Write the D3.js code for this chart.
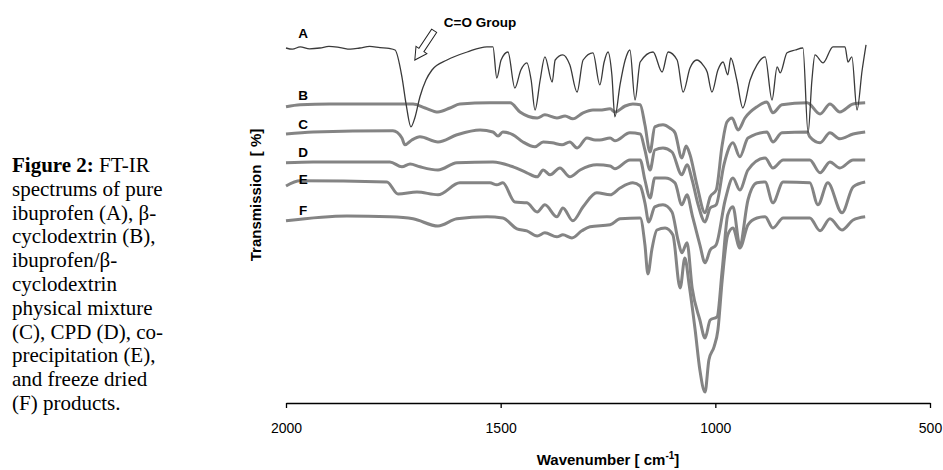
<!DOCTYPE html>
<html>
<head>
<meta charset="utf-8">
<script src="https://cdn.jsdelivr.net/npm/d3@7"></script>
<style>
  body { margin: 0; background: #fff; }
  svg { display: block; }
</style>
</head>
<body>
<svg id="chart" width="943" height="470"></svg>
<script>
// Spectra as [wavenumber cm-1, transmission %] pairs.
const spectrumA = [
  [2000, 90.5], [1985, 90.2], [1967, 90.8], [1945, 90.3], [1921, 90.5], [1900, 90.9],
  [1874, 90.6], [1850, 90.2], [1828, 90.5], [1805, 90.9], [1781, 90.6], [1760, 90.4],
  [1746, 90], [1730, 83.3], [1720, 76.3], [1709, 70.8], [1700, 73], [1688, 78.3],
  [1674, 82.5], [1660, 85], [1625, 87.5], [1578, 89.5], [1532, 90.8], [1518, 90.8],
  [1509, 83], [1499, 87.5], [1483, 89.5], [1467, 80.5], [1453, 85], [1439, 86.8],
  [1429, 82.5], [1420, 75], [1408, 82.5], [1397, 88.3], [1380, 82], [1373, 87.5],
  [1355, 88.8], [1339, 86.3], [1322, 79.5], [1308, 87.5], [1285, 89.3], [1269, 81.3],
  [1259, 87], [1250, 89.5], [1241, 83.8], [1234, 73.3], [1222, 81.3], [1210, 87.5],
  [1199, 90], [1187, 77.5], [1175, 87], [1145, 89.5], [1124, 84.5], [1110, 89.5],
  [1089, 87.5], [1075, 79.5], [1059, 85.5], [1043, 87.5], [1029, 86.3], [1019, 84.5],
  [1008, 79.5], [994, 85], [982, 87], [971, 83.8], [964, 88], [950, 82.5],
  [936, 75.5], [919, 82.5], [903, 86.3], [884, 88.3], [868, 77.5], [856, 85.8],
  [849, 84.3], [833, 89.3], [814, 90], [796, 90.5], [784, 69.3], [775, 82.5],
  [768, 88.8], [749, 86.8], [726, 90.8], [698, 90.8], [691, 87], [682, 88.3],
  [670, 75], [658, 85], [649, 91.3]
];
const spectrumB = [
  [2000, 75.8], [1967, 76.3], [1898, 76.5], [1804, 76.5], [1704, 76.5], [1676, 75.5],
  [1646, 74.5], [1618, 75.5], [1595, 76.5], [1525, 76.8], [1478, 76.8], [1455, 74.5],
  [1415, 73], [1397, 73.8], [1369, 73], [1350, 73.5], [1332, 72.8], [1308, 74.3],
  [1285, 75], [1269, 75], [1245, 75.3], [1234, 74.5], [1210, 76], [1192, 76.5],
  [1175, 76.3], [1164, 71.3], [1152, 64.5], [1141, 70.8], [1122, 71.3], [1106, 70.5],
  [1094, 69.3], [1078, 63], [1068, 66], [1059, 63.8], [1043, 56.3], [1024, 49.3],
  [1012, 53.3], [998, 55], [984, 66.3], [973, 72], [961, 73], [947, 70],
  [931, 73], [903, 75.8], [880, 77], [866, 74.3], [845, 76.3], [786, 76.8],
  [756, 74], [733, 76.5], [710, 74.5], [679, 76.5], [651, 76.8]
];
const spectrumC = [
  [2000, 69], [1937, 69.5], [1751, 69.8], [1730, 68], [1723, 66.3], [1707, 67.5],
  [1688, 68.3], [1646, 67], [1602, 68.8], [1548, 70], [1518, 69.5], [1506, 68.5],
  [1495, 69.5], [1471, 68.8], [1448, 67], [1420, 65.8], [1401, 67], [1380, 66.8],
  [1357, 66.3], [1339, 67], [1322, 65.5], [1299, 68], [1280, 67.5], [1269, 67.5],
  [1245, 68], [1234, 67.3], [1199, 69.3], [1175, 69], [1164, 65], [1152, 60],
  [1141, 65], [1122, 65.5], [1101, 64.5], [1078, 58.8], [1066, 61.3], [1054, 57.5],
  [1040, 51.3], [1024, 47], [1012, 50.5], [998, 51.3], [980, 61.3], [959, 66.8],
  [943, 63.3], [924, 68], [880, 69.5], [866, 67], [845, 69.3], [786, 69.5],
  [780, 68.3], [756, 66.8], [733, 69.3], [710, 67.8], [679, 69], [651, 69.5]
];
const spectrumD = [
  [2000, 61.8], [1937, 62], [1758, 62], [1730, 60.8], [1711, 61.5], [1688, 60.8],
  [1646, 60], [1602, 61.8], [1518, 62], [1471, 60.8], [1439, 59.3], [1415, 58.3],
  [1401, 60], [1385, 58.8], [1362, 60.5], [1339, 58.3], [1315, 60], [1276, 61.3],
  [1245, 61], [1234, 60.3], [1199, 62.5], [1175, 62.5], [1164, 57.5], [1152, 53],
  [1141, 58], [1117, 58], [1094, 56.8], [1078, 51.3], [1066, 53.8], [1054, 48.8],
  [1036, 41.3], [1024, 36.8], [1012, 40], [998, 41.3], [977, 52.5], [959, 58],
  [943, 55], [924, 60], [884, 63], [866, 60.5], [842, 62.5], [780, 62.5],
  [756, 59.3], [733, 62], [710, 60.5], [679, 62.5], [651, 62.5]
];
const spectrumE = [
  [2000, 56], [1967, 57.3], [1765, 57], [1739, 54], [1695, 54.5], [1646, 53.8],
  [1595, 56.8], [1525, 56.8], [1509, 56.3], [1495, 56.8], [1467, 52], [1439, 51.8],
  [1415, 49.5], [1397, 51.3], [1369, 48.3], [1355, 50.5], [1332, 47.3], [1308, 50.8],
  [1276, 54.3], [1245, 53.8], [1222, 55.5], [1192, 56.8], [1175, 56], [1164, 51.8],
  [1155, 47], [1141, 50.8], [1122, 51.3], [1101, 49.5], [1087, 42.5], [1078, 39.3],
  [1066, 41.8], [1054, 30.5], [1036, 22.5], [1024, 18], [1012, 22.5], [996, 23.3],
  [984, 35], [971, 48.8], [959, 50.8], [943, 41.3], [924, 52.5], [903, 56.8],
  [884, 57], [866, 51.8], [842, 57], [780, 56.8], [761, 51.3], [738, 56.8],
  [705, 49.3], [679, 55.8], [651, 57]
];
const spectrumF = [
  [2000, 47.3], [1858, 48.5], [1758, 48.3], [1704, 47.8], [1646, 46], [1602, 47.8],
  [1532, 48.3], [1495, 48], [1462, 45.3], [1439, 44.8], [1415, 43.5], [1397, 44.3],
  [1369, 43.3], [1355, 43.8], [1334, 43], [1311, 44.8], [1292, 45.8], [1245, 46.3],
  [1222, 47.8], [1175, 48], [1164, 41.3], [1157, 34], [1148, 40], [1136, 45],
  [1117, 45.5], [1099, 43.8], [1082, 30.5], [1071, 38], [1061, 31.3], [1047, 20],
  [1036, 10], [1024, 4.5], [1015, 12.5], [1003, 15.8], [994, 20], [984, 32.5],
  [971, 43.8], [959, 45.5], [943, 40.5], [924, 46.3], [903, 48], [884, 48.3],
  [866, 45.5], [842, 48], [780, 48], [756, 44.8], [733, 47.8], [705, 45],
  [679, 47.5], [651, 48.3]
];

const seriesNames = ['A', 'B', 'C', 'D', 'E', 'F'];
const labelT = [94.3, 78.8, 71.5, 64.5, 57.8, 50];
const xTicks = [2000, 1500, 1000, 500];

const captionLines = [
  ['Figure 2:', ' FT-IR'],
  ['', 'spectrums of pure'],
  ['', 'ibuprofen (A), \u03b2-'],
  ['', 'cyclodextrin (B),'],
  ['', 'ibuprofen/\u03b2-'],
  ['', 'cyclodextrin'],
  ['', 'physical mixture'],
  ['', '(C), CPD (D), co-'],
  ['', 'precipitation (E),'],
  ['', 'and freeze dried'],
  ['', '(F) products.']
];

let svg = d3.select('#chart');

let x = d3.scaleLinear().domain([2000, 500]).range([286, 930]);
let y = d3.scaleLinear().domain([0, 100]).range([410, 10]);
const axisFloor = 1.75;

// caption block on the left
let caption = svg.append('text')
  .attr('font-family', '"Liberation Serif", "Times New Roman", serif')
  .attr('font-size', 21)
  .attr('fill', '#000');
captionLines.forEach(function (ln, i) {
  let t = caption.append('tspan').attr('x', 12).attr('y', 172 + i * 23.8);
  if (ln[0]) t.append('tspan').attr('font-weight', 'bold').text(ln[0]);
  t.append('tspan').text(ln[1]);
});

// the spectra
let spectra = [spectrumA, spectrumB, spectrumC, spectrumD, spectrumE, spectrumF];
let line = d3.line()
  .x(d => x(d[0]))
  .y(d => y(d[1]))
  .curve(d3.curveMonotoneX);

// thick gray lines first, the thin ibuprofen trace on top
svg.append('g').selectAll('path')
  .data(spectra.slice(1))
  .enter()
  .append('path')
  .attr('d', line)
  .attr('fill', 'none')
  .attr('stroke', '#848484')
  .attr('stroke-width', 3)
  .attr('stroke-linejoin', 'round');

svg.append('path')
  .attr('d', line(spectrumA))
  .attr('fill', 'none')
  .attr('stroke', '#3a3a3a')
  .attr('stroke-width', 1.3);

// series letters
svg.append('g').selectAll('text')
  .data(seriesNames)
  .enter()
  .append('text')
  .attr('x', x(1960))
  .attr('y', (d, i) => y(labelT[i]))
  .attr('dy', '0.35em')
  .attr('text-anchor', 'middle')
  .attr('font-family', 'Arial, "Liberation Sans", sans-serif')
  .attr('font-weight', 'bold')
  .attr('font-size', 13.5)
  .text(d => d);

// C=O annotation with hollow arrow
svg.append('text')
  .attr('x', x(1548))
  .attr('y', y(97))
  .attr('dy', '0.35em')
  .attr('text-anchor', 'middle')
  .attr('font-family', 'Arial, "Liberation Sans", sans-serif')
  .attr('font-weight', 'bold')
  .attr('font-size', 13.5)
  .text('C=O Group');

let tail = [x(1655), y(94.8)], tip = [x(1700), y(87.5)];
let len = Math.hypot(tip[0] - tail[0], tip[1] - tail[1]);
let ang = Math.atan2(tip[1] - tail[1], tip[0] - tail[0]) * 180 / Math.PI;
let hl = 12, hw = 6.5, sw = 3;
svg.append('polygon')
  .attr('points', [[0, -sw], [len - hl, -sw], [len - hl, -hw], [len, 0],
                   [len - hl, hw], [len - hl, sw], [0, sw]].join(' '))
  .attr('transform', 'translate(' + tail + ') rotate(' + ang + ')')
  .attr('fill', '#fff')
  .attr('stroke', '#222')
  .attr('stroke-width', 1);

// x axis
let xAxis = d3.axisBottom(x)
  .tickValues(xTicks)
  .tickSize(5)
  .tickSizeOuter(0)
  .tickPadding(15)
  .tickFormat(d3.format('d'));
let gx = svg.append('g')
  .attr('transform', 'translate(0,' + y(axisFloor) + ')')
  .call(xAxis);
gx.select('.domain').attr('stroke-width', 1.3);
gx.selectAll('line').attr('stroke-width', 1.3);
gx.selectAll('text')
  .attr('font-family', 'Arial, "Liberation Sans", sans-serif')
  .attr('font-size', 14);

// axis titles
let xt = svg.append('text')
  .attr('x', 608)
  .attr('y', 465)
  .attr('text-anchor', 'middle')
  .attr('font-family', 'Arial, "Liberation Sans", sans-serif')
  .attr('font-weight', 'bold')
  .attr('font-size', 15);
xt.append('tspan').text('Wavenumber [ cm');
xt.append('tspan').attr('font-size', 10).attr('dy', -6).text('-1');
xt.append('tspan').attr('dy', 6).text(']');

svg.append('text')
  .attr('transform', 'translate(256,195) rotate(-90)')
  .attr('dy', '0.35em')
  .attr('text-anchor', 'middle')
  .attr('font-family', 'Arial, "Liberation Sans", sans-serif')
  .attr('font-weight', 'bold')
  .attr('font-size', 15)
  .attr('xml:space', 'preserve')
  .text('Transmission  [ %]');
</script>
</body>
</html>
